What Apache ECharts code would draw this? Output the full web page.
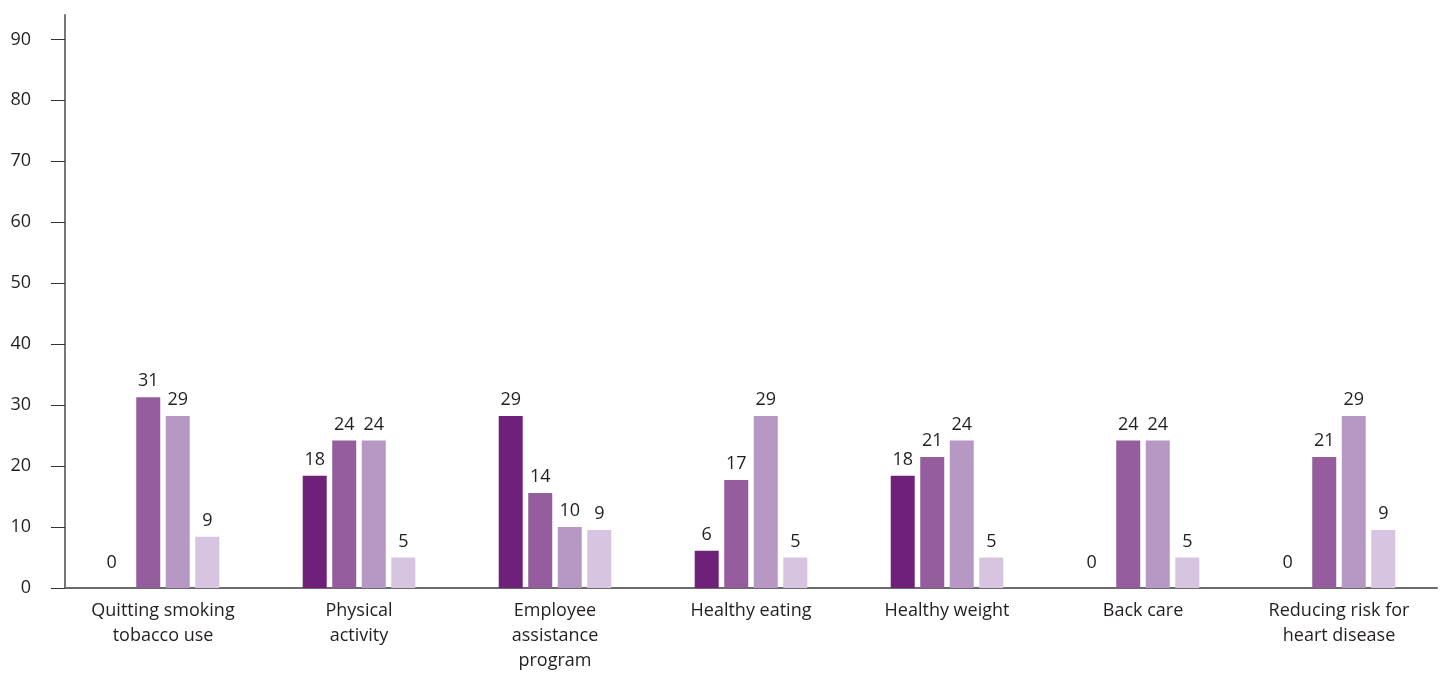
<!DOCTYPE html>
<html>
<head>
<meta charset="utf-8">
<script src="https://cdn.jsdelivr.net/npm/echarts@6/dist/echarts.min.js"></script>
<style>
html,body{margin:0;padding:0;background:#fff;}
#chart{width:1443px;height:675px;}
</style>
</head>
<body>
<div id="chart"></div>
<script>
const categories = [
  "Quitting smoking\ntobacco use",
  "Physical\nactivity",
  "Employee\nassistance\nprogram",
  "Healthy eating",
  "Healthy weight",
  "Back care",
  "Reducing risk for\nheart disease"
];
const yTicks = [0, 10, 20, 30, 40, 50, 60, 70, 80, 90];

// bar heights
const series1 = [0, 18.4, 28.2, 6.1, 18.4, 0, 0];
const series2 = [31.3, 24.2, 15.6, 17.7, 21.5, 24.2, 21.5];
const series3 = [28.2, 24.2, 10.0, 28.2, 24.2, 24.2, 28.2];
const series4 = [8.4, 5.0, 9.5, 5.0, 5.0, 5.0, 9.5];

// printed value labels
const labels1 = [0, 18, 29, 6, 18, 0, 0];
const labels2 = [31, 24, 14, 17, 21, 24, 21];
const labels3 = [29, 24, 10, 29, 24, 24, 29];
const labels4 = [9, 5, 9, 5, 5, 5, 9];

const colors = ["#6f2079", "#955c9e", "#b797c3", "#d6c4e0"];
const FONT = "Open Sans";
const TEXT = "#231f20";

function makeSeries(name, values, labels, color) {
  return {
    name: name,
    type: "bar",
    barWidth: 24,
    barGap: "23%",
    itemStyle: { color: color },
    data: values.map((v, i) => {
      const d = { value: v };
      if (v === 0) {
        d.label = { offset: [-7, -9] };
      }
      return d;
    }),
    label: {
      show: true,
      position: "top",
      distance: 7,
      color: TEXT,
      fontFamily: FONT,
      fontSize: 18,
      formatter: p => String(labels[p.dataIndex])
    }
  };
}

const chart = echarts.init(document.getElementById("chart"), null, { renderer: "canvas" });
chart.setOption({
  animation: false,
  backgroundColor: "#ffffff",
  grid: { left: 65, right: 6, top: 15, bottom: 87, containLabel: false },
  xAxis: {
    type: "category",
    data: categories,
    axisLine: { show: true, lineStyle: { color: "#6b6b6b", width: 2 } },
    axisTick: { show: false },
    axisLabel: {
      color: TEXT,
      fontFamily: FONT,
      fontSize: 18,
      lineHeight: 25,
      margin: 10,
      interval: 0
    }
  },
  yAxis: {
    type: "value",
    min: 0,
    max: 94,
    interval: 10,
    splitLine: { show: false },
    axisLine: { show: true, lineStyle: { color: "#777777", width: 2 } },
    axisTick: {
      show: true,
      length: 14,
      customValues: yTicks,
      lineStyle: { color: "#333333", width: 1 }
    },
    axisLabel: {
      color: TEXT,
      fontFamily: FONT,
      fontSize: 18,
      margin: 34,
      customValues: yTicks
    }
  },
  series: [
    makeSeries("Series 1", series1, labels1, colors[0]),
    makeSeries("Series 2", series2, labels2, colors[1]),
    makeSeries("Series 3", series3, labels3, colors[2]),
    makeSeries("Series 4", series4, labels4, colors[3])
  ]
});
</script>
</body>
</html>
